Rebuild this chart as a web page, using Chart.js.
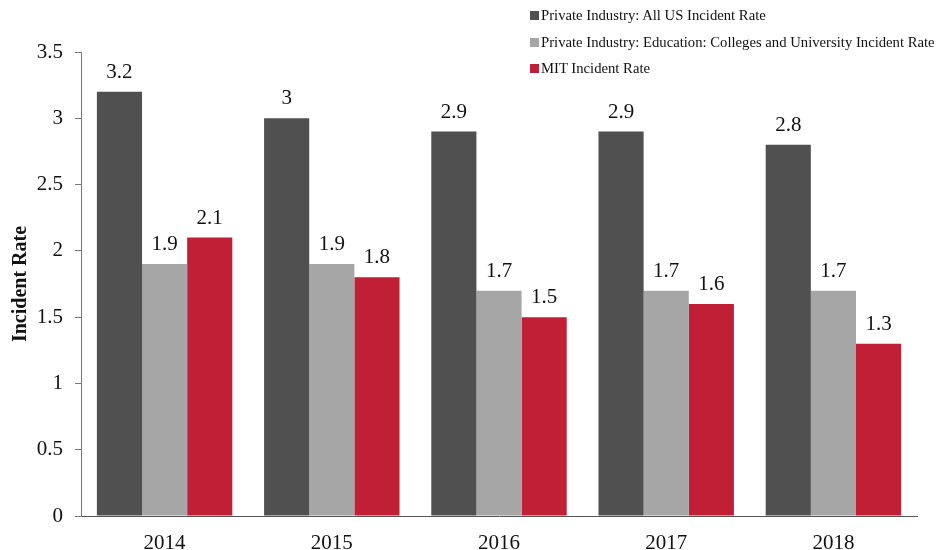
<!DOCTYPE html>
<html>
<head>
<meta charset="utf-8">
<script src="https://cdn.jsdelivr.net/npm/chart.js@4.4.1/dist/chart.umd.min.js"></script>
<style>
    html, body { margin: 0; padding: 0; background: #fff; }
    #wrap { position: relative; width: 938px; height: 550px; }
    #legend {
        position: absolute; left: 530px; top: 4px;
        font-family: 'Liberation Serif', serif; font-size: 14.7px; color: #111;
    }
    #legend .item { height: 26.5px; line-height: 22px; white-space: nowrap; }
    #legend .box { display: inline-block; width: 9px; height: 9px; margin-right: 2px; }
</style>
</head>
<body>
<div id="wrap">
    <canvas id="incidentChart" width="938" height="550"></canvas>
    <div id="legend"></div>
</div>
<script>
// Data
const years = ['2014', '2015', '2016', '2017', '2018'];
const allUsRate = [3.2, 3.0, 2.9, 2.9, 2.8];
const educationRate = [1.9, 1.9, 1.7, 1.7, 1.7];
const mitRate = [2.1, 1.8, 1.5, 1.6, 1.3];
const seriesNames = [
    'Private Industry: All US Incident Rate',
    'Private Industry: Education: Colleges and University Incident Rate',
    'MIT Incident Rate'
];
const yTicks = [0, 0.5, 1, 1.5, 2, 2.5, 3, 3.5];

const colors = ['#505050', '#a6a6a6', '#c01f35'];
const serif = 'Liberation Serif';

// value labels above each bar
const valueLabels = {
    id: 'valueLabels',
    afterDatasetsDraw(chart) {
        const ctx = chart.ctx;
        ctx.save();
        ctx.font = '21px "' + serif + '"';
        ctx.fillStyle = '#111';
        ctx.textAlign = 'center';
        ctx.textBaseline = 'bottom';
        chart.data.datasets.forEach((ds, i) => {
            chart.getDatasetMeta(i).data.forEach((bar, j) => {
                ctx.fillText(String(ds.data[j]), bar.x, bar.y - 9);
            });
        });
        ctx.restore();
    }
};

const chart = new Chart(document.getElementById('incidentChart'), {
    type: 'bar',
    data: {
        labels: years,
        datasets: [allUsRate, educationRate, mitRate].map((vals, i) => ({
            label: seriesNames[i],
            data: vals,
            backgroundColor: colors[i],
            borderWidth: 0,
            categoryPercentage: 0.81,
            barPercentage: 1.0
        }))
    },
    options: {
        responsive: false,
        animation: false,
        layout: { padding: { top: 52, right: 21, left: 0, bottom: 0 } },
        plugins: {
            legend: { display: false },
            tooltip: { enabled: false }
        },
        scales: {
            x: {
                grid: { display: false },
                border: { display: true, color: '#555', width: 1 },
                ticks: {
                    font: { family: serif, size: 21 },
                    color: '#111',
                    padding: 7
                },
                afterFit: s => { s.height = 34; }
            },
            y: {
                min: 0,
                max: 3.5,
                afterBuildTicks: s => { s.ticks = yTicks.map(v => ({ value: v })); },
                grid: {
                    drawOnChartArea: false,
                    drawTicks: true,
                    tickLength: 6,
                    color: '#777'
                },
                border: { display: true, color: '#777', width: 1 },
                ticks: {
                    font: { family: serif, size: 21 },
                    color: '#111',
                    padding: 12,
                    callback: v => String(v)
                },
                title: {
                    display: true,
                    text: 'Incident Rate',
                    font: { family: serif, size: 20, weight: 'bold' },
                    color: '#111',
                    padding: { top: 9, bottom: 0 }
                },
                afterFit: s => { s.width = 81; }
            }
        }
    },
    plugins: [valueLabels]
});

// vertical legend, top right
const legendEl = document.getElementById('legend');
seriesNames.forEach((name, i) => {
    const row = document.createElement('div');
    row.className = 'item';
    const box = document.createElement('span');
    box.className = 'box';
    box.style.background = colors[i];
    row.appendChild(box);
    row.appendChild(document.createTextNode(name));
    legendEl.appendChild(row);
});
</script>
</body>
</html>
